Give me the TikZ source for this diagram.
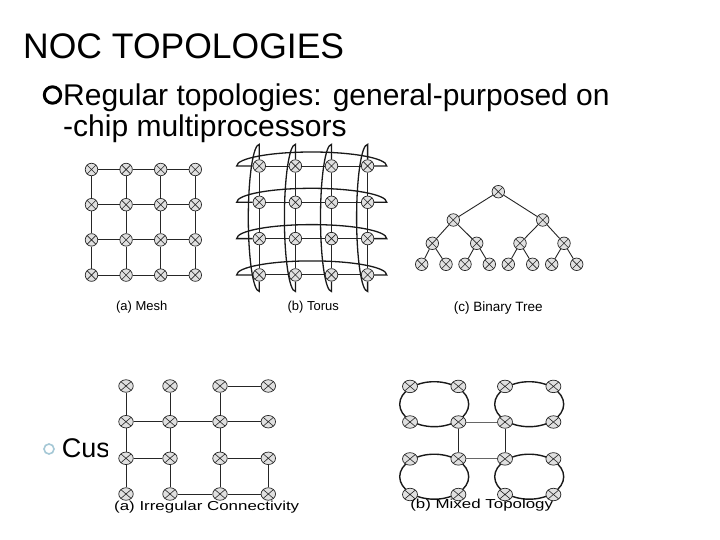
\documentclass[tikz,border=0pt]{standalone}
\usepackage{fontspec}
\setmainfont{Liberation Sans}
\newfontfamily\widesans[FakeStretch=1.3]{Liberation Sans}
\usetikzlibrary{shapes.geometric}
\begin{document}
\begin{tikzpicture}[x=1pt,y=-1pt,
  rt/.style={circle, draw=black!85, fill=black!12, line width=0.7pt, minimum size=12.5pt, inner sep=0pt,
    path picture={\draw[black!85,line width=0.6pt] (path picture bounding box.south west) -- (path picture bounding box.north east)
      (path picture bounding box.north west) -- (path picture bounding box.south east);}},
  ert/.style={rt, ellipse, minimum width=14.5pt, minimum height=12.5pt},
  lnk/.style={line width=0.9pt, draw=black!85},
  wrap/.style={line width=1.3pt, draw=black!90},
  ring/.style={line width=1.4pt, draw=black!90},
  lbl/.style={font=\fontsize{13}{15}\selectfont, inner sep=0pt},
  wlbl/.style={font=\widesans\fontsize{13}{15}\selectfont, inner sep=0pt},
  ]
\useasboundingbox (0,0) rectangle (720,540);
\fill[white] (0,0) rectangle (720,540);

% texts
\node[anchor=base west, inner sep=0pt, font=\fontsize{35.5}{40}\selectfont] (title) at (23,58.5) {NOC TOPOLOGIES};
\draw[line width=3pt] (52.5,95) circle[radius=8.2];
\node[anchor=base west, inner sep=0pt, font=\fontsize{30}{36}\selectfont] (l1) at (63,105.5) {Regular topologies: general-purposed on};
\node[anchor=base west, inner sep=0pt, font=\fontsize{30}{36}\selectfont] (l2) at (63,137) {-chip multiprocessors};
\draw[line width=1.6pt, draw={rgb,255:red,165;green,200;blue,214}] (49,449) circle[radius=5];
\node[anchor=base west, inner sep=0pt, font=\fontsize{27}{32}\selectfont] (cus) at (61.7,457) {Cus};
\fill[white] (108,372) rectangle (315,520);

% (a) Mesh
\foreach \i in {1,...,4} \foreach \j in {1,...,4}
  \node[rt] (m\i\j) at ({91.5+34.6*(\i-1)},{169.5+35.2*(\j-1)}) {};
\foreach \a/\b in {1/2,2/3,3/4} \foreach \k in {1,...,4} {
  \draw[lnk] (m\a\k) -- (m\b\k);
  \draw[lnk] (m\k\a) -- (m\k\b);
}
\node[lbl] (lm) at (141.7,307) {(a) Mesh};

% (b) Torus
\foreach \i in {1,...,4} \foreach \j in {1,...,4}
  \node[rt] (t\i\j) at ({259.3+36.1*(\i-1)},{166+36.3*(\j-1)}) {};
\foreach \a/\b in {1/2,2/3,3/4} \foreach \k in {1,...,4} {
  \draw[lnk] (t\a\k) -- (t\b\k);
  \draw[lnk] (t\k\a) -- (t\k\b);
}
\foreach \k in {1,...,4} {
  \draw[wrap] (t1\k.west) -- ++(-16,0) arc[start angle=180,end angle=360,x radius=75,y radius=14] -- (t4\k.east);
  \draw[wrap] (t\k1.north) -- ++(0,-15) arc[start angle=270,end angle=90,x radius=11,y radius=73.5] -- (t\k4.south);
}
\node[lbl] (lt) at (313.3,307) {(b) Torus};

% (c) Binary tree
\node[rt] (r) at (498.3,191.7) {};
\node[rt] (a1) at (453.3,220) {};
\node[rt] (a2) at (542.7,220) {};
\node[rt] (b1) at (432.3,243.3) {};
\node[rt] (b2) at (476.7,243.3) {};
\node[rt] (b3) at (520,243.3) {};
\node[rt] (b4) at (564,243.3) {};
\foreach \n/\x in {1/421.7,2/446,3/465,4/489.3,5/508.3,6/532.7,7/551.7,8/576.7}
  \node[rt] (c\n) at (\x,264.3) {};
\draw[lnk] (r) -- (a1); \draw[lnk] (r) -- (a2);
\draw[lnk] (a1) -- (b1); \draw[lnk] (a1) -- (b2);
\draw[lnk] (a2) -- (b3); \draw[lnk] (a2) -- (b4);
\draw[lnk] (b1) -- (c1); \draw[lnk] (b1) -- (c2);
\draw[lnk] (b2) -- (c3); \draw[lnk] (b2) -- (c4);
\draw[lnk] (b3) -- (c5); \draw[lnk] (b3) -- (c6);
\draw[lnk] (b4) -- (c7); \draw[lnk] (b4) -- (c8);
\node[lbl, font=\fontsize{13.5}{15}\selectfont] (lb) at (498.3,308) {(c) Binary Tree};

% (a) Irregular connectivity
\foreach \c/\x in {1/126,2/170,3/220,4/268.3} \foreach \r/\y in {1/386,2/421.7,3/458.3,4/494}
  \node[ert] (i\c\r) at (\x,\y) {};
\foreach \p/\q in {11/12,12/13,13/14,21/22,22/23,23/24,31/32,32/33,33/34,43/44,
                   31/41,12/22,22/32,32/42,13/23,33/43,24/34,34/44}
  \draw[lnk] (i\p) -- (i\q);
\node[wlbl] (li) at (206.7,507) {(a) Irregular Connectivity};

% (b) Mixed topology
\foreach \g/\cx/\cy in {1/434.2/404.2,2/529.2/404.2,3/434.2/476.7,4/529.2/476.7} {
  \draw[ring] (\cx,\cy) ellipse[x radius=34.5,y radius=22.5];
  \node[ert, minimum width=15pt] (x\g1) at (\cx-24.2,\cy-17.8) {};
  \node[ert, minimum width=15pt] (x\g2) at (\cx+24.2,\cy-17.8) {};
  \node[ert, minimum width=15pt] (x\g3) at (\cx-24.2,\cy+17.8) {};
  \node[ert, minimum width=15pt] (x\g4) at (\cx+24.2,\cy+17.8) {};
}
\draw[lnk, draw=black!60] (x14) -- (x23);
\draw[lnk] (x14) -- (x32);
\draw[lnk] (x23) -- (x41);
\draw[lnk, draw=black!60] (x32) -- (x41);
\node[wlbl] (lx) at (481.7,505) {(b) Mixed Topology};
\end{tikzpicture}
\end{document}
